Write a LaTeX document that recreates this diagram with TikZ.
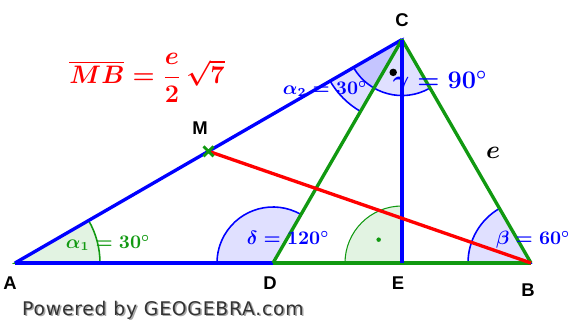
\documentclass[tikz,border=0pt]{standalone}
\usepackage{amsmath,amssymb}
\usepackage{fontspec}
\setsansfont{Liberation Sans}
\newfontfamily\ggbfont[LetterSpace=4]{DejaVu Sans}
\usepackage{tikz}
\usetikzlibrary{calc}
\definecolor{ggbBlue}{HTML}{0000FF}
\definecolor{ggbGreen}{HTML}{119911}
\definecolor{ggbRed}{HTML}{FF0000}

\begin{document}
\begin{tikzpicture}[
  seg/.style={line width=1.9pt},
  sector/.style={line width=0.9pt, fill opacity=0.12},
  vlabel/.style={font=\sffamily\bfseries\fontsize{10.5}{12}\selectfont, text=black},
  anglabel/.style={font=\fontsize{10.5}{12}\selectfont\boldmath}]
\useasboundingbox (-0.3,-1.18) rectangle (11.1,5.26);
% triangle and derived points
\coordinate (A) at (0,0);
\coordinate (B) at (10.32,0);
\coordinate (C) at (7.74,4.469);
\coordinate (D) at ($(A)!0.5!(B)$);
\coordinate (M) at ($(A)!0.5!(C)$);
\coordinate (E) at ($(A)!(C)!(B)$);
% angle sectors
\filldraw[sector, draw=ggbGreen, fill=ggbGreen] (A) -- ++(0:1.7) arc[start angle=0, end angle=30, radius=1.7] -- cycle;
\filldraw[sector, draw=ggbBlue, fill=ggbBlue] (D) -- ++(60:1.12) arc[start angle=60, end angle=180, radius=1.12] -- cycle;
\filldraw[sector, line width=0.6pt, draw=ggbGreen, fill=ggbGreen] (E) -- ++(90:1.14) arc[start angle=90, end angle=180, radius=1.14] -- cycle;
\filldraw[sector, draw=ggbBlue, fill=ggbBlue] (B) -- ++(120:1.26) arc[start angle=120, end angle=180, radius=1.26] -- cycle;
\filldraw[sector, draw=ggbBlue, fill=ggbBlue] (C) -- ++(210:1.66) arc[start angle=210, end angle=240, radius=1.66] -- cycle;
\filldraw[sector, draw=ggbBlue, fill=ggbBlue] (C) -- ++(210:1.12) arc[start angle=210, end angle=300, radius=1.12] -- cycle;
% right angle dots
\fill[black] ($(C)+(255:0.68)$) circle[radius=0.075];
\fill[ggbGreen] ($(E)+(135:0.66)$) circle[radius=0.045];
% sides
\draw[seg, ggbBlue] (A) -- (D);
\draw[seg, ggbGreen] (D) -- (B);
\draw[seg, ggbBlue] (A) -- (C);
\draw[seg, ggbGreen] (D) -- (C);
\draw[seg, ggbGreen] (C) -- (B);
\draw[seg, ggbBlue] (C) -- (E);
\draw[seg, ggbRed] (M) -- (B);
% midpoint mark
\draw[ggbGreen, line width=1.6pt] ($(M)+(-0.1,-0.1)$) -- ($(M)+(0.1,0.1)$)
  ($(M)+(-0.1,0.1)$) -- ($(M)+(0.1,-0.1)$);
% point labels
\node[vlabel] (lA) at (-0.1,-0.4) {A};
\node[vlabel] (lB) at (10.26,-0.54) {B};
\node[vlabel] (lC) at (7.74,4.86) {C};
\node[vlabel] (lD) at (5.1,-0.4) {D};
\node[vlabel] (lE) at (7.66,-0.4) {E};
\node[vlabel] (lM) at (3.7,2.7) {M};
\node[font=\fontsize{15}{17}\selectfont\boldmath] (le) at (9.56,2.2) {$e$};
% angle labels
\node[anglabel, text=ggbGreen] (a1) at (1.86,0.40) {$\alpha_1 = 30^\circ$};
\node[anglabel, text=ggbBlue] (a2) at (6.2,3.48) {$\alpha_2 = 30^\circ$};
\node[anglabel, text=ggbBlue] (dl) at (5.46,0.5) {$\delta = 120^\circ$};
\node[anglabel, text=ggbBlue, anchor=west] (bl) at (9.5,0.46) {$\beta = 60^\circ$};
\node[anglabel, text=ggbBlue, font=\fontsize{14}{16}\selectfont\boldmath] (gl) at (8.5,3.62) {$\gamma = 90^\circ$};
% result
\node[text=ggbRed, font=\fontsize{14.5}{17}\selectfont\boldmath] (res) at (2.64,3.7)
  {$\overline{MB} = \dfrac{e}{2}\,\sqrt{7}$};
% footer
\node[text=black!35, font=\ggbfont\fontsize{10.7}{12}\selectfont] (wm0) at (2.99,-0.97) {Powered by GEOGEBRA.com};
\node[text=black!80, font=\ggbfont\fontsize{10.7}{12}\selectfont] (wm) at (2.96,-0.94) {Powered by GEOGEBRA.com};
\end{tikzpicture}
\end{document}
